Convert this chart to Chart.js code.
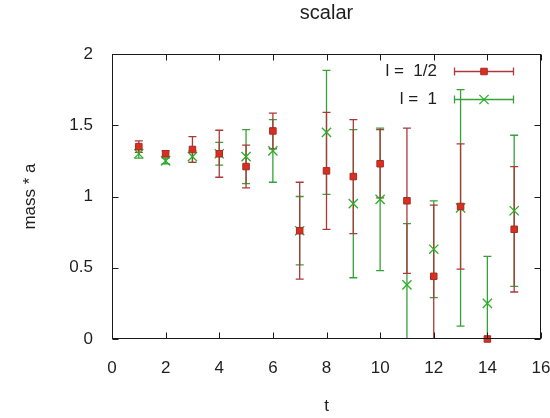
<!DOCTYPE html>
<html><head><meta charset="utf-8">
<script src="https://cdn.jsdelivr.net/npm/chart.js@4"></script>
<style>html,body{margin:0;padding:0;background:#fff}#wrap{width:550px;height:418px}</style>
</head><body><div id="wrap"><canvas id="c" width="550" height="418"></canvas></div>
<script>
// ---- data ----
const tValues    = [1, 2, 3, 4, 5, 6, 7, 8, 9, 10, 11, 12, 13, 14, 15];
const halfValues = [1.35, 1.30, 1.33, 1.30, 1.21, 1.46, 0.76, 1.18, 1.14, 1.23, 0.97, 0.44, 0.93, 0.00, 0.77];
const halfErrors = [0.04, 0.02, 0.09, 0.165, 0.15, 0.125, 0.34, 0.41, 0.40, 0.24, 0.51, 0.50, 0.44, 0.00, 0.44];
const oneValues  = [1.30, 1.25, 1.28, 1.30, 1.28, 1.32, 0.76, 1.45, 0.95, 0.98, 0.38, 0.63, 0.92, 0.25, 0.90];
const oneErrors  = [0.03, 0.02, 0.04, 0.08, 0.19, 0.22, 0.24, 0.435, 0.52, 0.50, 0.43, 0.34, 0.83, 0.33, 0.53];
const xTicks = [0, 2, 4, 6, 8, 10, 12, 14, 16];
const yTicks = [0, 0.5, 1, 1.5, 2];
const seriesLabels = ['l =  1/2', 'l =  1'];
const chartTitle = 'scalar';
const xTitle = 't';
const yTitle = 'mass * a';

const FONT = "'Liberation Sans', Arial, sans-serif";
const TXT = '#1e1e1e';

const toPoints = (xs, ys) => xs.map((x, i) => ({x: x, y: ys[i]}));

const datasets = [
  {
    label: seriesLabels[0],
    data: toPoints(tValues, halfValues),
    errors: halfErrors,
    barColor: '#aa3a3a',
    pointStyle: 'rect',
    pointRadius: 4.6,
    pointHoverRadius: 4.6,
    backgroundColor: '#d8301c',
    borderColor: '#a82828',
    pointBorderWidth: 1,
    clip: false
  },
  {
    label: seriesLabels[1],
    data: toPoints(tValues, oneValues),
    errors: oneErrors,
    barColor: '#38a038',
    pointStyle: 'crossRot',
    pointRadius: 6.5,
    pointHoverRadius: 6.5,
    backgroundColor: '#28b028',
    borderColor: '#28b028',
    pointBorderWidth: 1.3,
    clip: false
  }
];

const errorBarPlugin = {
  id: 'errorBars',
  beforeDatasetsDraw(chart) {
    const {ctx, chartArea: a, scales: {x, y}} = chart;
    ctx.save();
    ctx.beginPath();
    ctx.rect(a.left, a.top - 1, a.right - a.left, a.bottom - a.top + 1);
    ctx.clip();
    chart.data.datasets.slice().reverse().forEach(ds => {
      ctx.strokeStyle = ds.barColor;
      ctx.lineWidth = 1.3;
      ds.data.forEach((p, i) => {
        const e = ds.errors[i];
        if (!e) return;
        const px = x.getPixelForValue(p.x);
        const top = y.getPixelForValue(p.y + e);
        const bot = y.getPixelForValue(p.y - e);
        ctx.beginPath();
        ctx.moveTo(px, top); ctx.lineTo(px, bot);
        ctx.moveTo(px - 4, top); ctx.lineTo(px + 4, top);
        ctx.moveTo(px - 4, bot); ctx.lineTo(px + 4, bot);
        ctx.stroke();
      });
    });
    ctx.restore();
  }
};

const framePlugin = {
  id: 'frame',
  afterDraw(chart) {
    const {ctx, chartArea: a, scales: {x, y}} = chart;
    const L = Math.round(a.left) + 0.5, R = Math.round(a.right) - 0.5;
    const T = Math.round(a.top) + 0.5, B = Math.round(a.bottom) - 0.5;
    ctx.save();
    ctx.strokeStyle = '#1a1a1a';
    ctx.lineWidth = 1;
    ctx.strokeRect(L, T, R - L, B - T);
    ctx.beginPath();
    xTicks.forEach(v => {
      const px = Math.round(x.getPixelForValue(v)) + 0.5;
      ctx.moveTo(px, B); ctx.lineTo(px, B - 6);
      ctx.moveTo(px, T); ctx.lineTo(px, T + 6);
    });
    yTicks.forEach(v => {
      const py = Math.round(y.getPixelForValue(v)) + 0.5;
      ctx.moveTo(L, py); ctx.lineTo(L + 6, py);
      ctx.moveTo(R, py); ctx.lineTo(R - 6, py);
    });
    ctx.stroke();

    // legend (gnuplot style: text right, sample to the right)
    ctx.font = '17px ' + FONT;
    ctx.textAlign = 'right';
    ctx.textBaseline = 'middle';
    const rows = [71, 99];
    chart.data.datasets.forEach((ds, i) => {
      const yy = rows[i] + 0.5;
      ctx.fillStyle = TXT;
      ctx.fillText(ds.label, 437, rows[i]);
      ctx.strokeStyle = ds.barColor;
      ctx.lineWidth = 1.3;
      ctx.beginPath();
      ctx.moveTo(454, yy); ctx.lineTo(514, yy);
      ctx.moveTo(454.5, yy - 4); ctx.lineTo(454.5, yy + 4);
      ctx.moveTo(513.5, yy - 4); ctx.lineTo(513.5, yy + 4);
      ctx.stroke();
      ctx.fillStyle = ds.backgroundColor;
      ctx.strokeStyle = ds.borderColor;
      ctx.lineWidth = ds.pointBorderWidth;
      ctx.beginPath();
      const s = Math.SQRT1_2 * ds.pointRadius;
      if (ds.pointStyle === 'rect') {
        ctx.rect(484 - s, yy - s, 2 * s, 2 * s);
        ctx.fill(); ctx.stroke();
      } else {
        ctx.moveTo(484 - s, yy - s); ctx.lineTo(484 + s, yy + s);
        ctx.moveTo(484 + s, yy - s); ctx.lineTo(484 - s, yy + s);
        ctx.stroke();
      }
    });
    ctx.restore();
  }
};

new Chart(document.getElementById('c'), {
  type: 'scatter',
  data: {datasets: datasets},
  options: {
    responsive: false,
    animation: false,
    devicePixelRatio: 1,
    layout: {padding: {left: 0, right: 9, top: 0, bottom: 0}},
    plugins: {
      legend: {display: false},
      tooltip: {enabled: false},
      title: {
        display: true,
        fullSize: false,
        text: chartTitle,
        color: TXT,
        font: {family: FONT, size: 20, weight: 'normal'},
        padding: {top: 1, bottom: 29}
      }
    },
    scales: {
      x: {
        type: 'linear',
        min: 0, max: 16,
        afterBuildTicks: s => { s.ticks = xTicks.map(v => ({value: v})); },
        ticks: {color: TXT, font: {family: FONT, size: 17}, padding: 19, maxRotation: 0, autoSkip: false,
                callback: v => String(v)},
        grid: {display: false, drawTicks: false},
        border: {display: false},
        title: {display: true, text: xTitle, color: TXT, font: {family: FONT, size: 17}, padding: {top: 0, bottom: 1.8}},
        afterFit: s => { s.height = 79; s.paddingLeft = 0; s.paddingRight = 0; }
      },
      y: {
        type: 'linear',
        min: 0, max: 2,
        afterBuildTicks: s => { s.ticks = yTicks.map(v => ({value: v})); },
        ticks: {color: TXT, font: {family: FONT, size: 17}, padding: 19, callback: v => String(v)},
        grid: {display: false, drawTicks: false},
        border: {display: false},
        title: {display: true, text: yTitle, color: TXT, font: {family: FONT, size: 17}, padding: {top: 19.8, bottom: 0}},
        afterFit: s => { s.width = 112; s.paddingTop = 0; s.paddingBottom = 0; }
      }
    }
  },
  plugins: [errorBarPlugin, framePlugin]
});
</script>
</body></html>
